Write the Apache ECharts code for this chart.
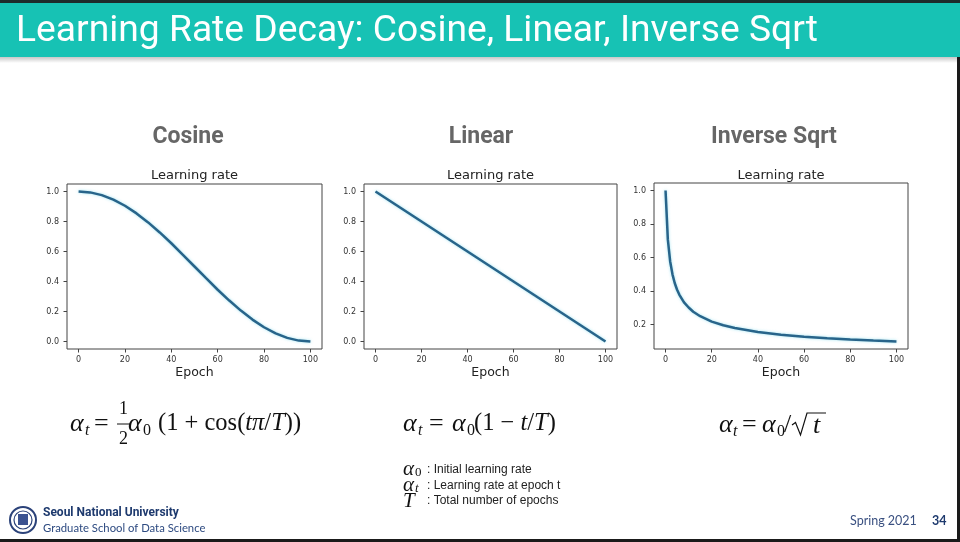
<!DOCTYPE html>
<html><head><meta charset="utf-8">
<script src="https://cdn.jsdelivr.net/npm/echarts@6/dist/echarts.min.js"></script>
<style>html,body{margin:0;padding:0;background:#fff}#c{width:960px;height:542px}</style>
</head><body><div id="c"></div>
<script>
// ---- data ----
const slideTitle = 'Learning Rate Decay: Cosine, Linear, Inverse Sqrt';
const panelTitles = ['Cosine', 'Linear', 'Inverse Sqrt'];
const plotTitle = 'Learning rate';
const xAxisName = 'Epoch';

const epochsCosine = [0,5,10,15,20,25,30,35,40,45,50,55,60,65,70,75,80,85,90,95,100];
const cosineLR = [1.0,0.994,0.976,0.946,0.905,0.854,0.794,0.727,0.655,0.578,0.5,0.422,0.345,0.273,0.206,0.146,0.095,0.054,0.024,0.006,0.0];

const epochsLinear = [0,10,20,30,40,50,60,70,80,90,100];
const linearLR = [1.0,0.9,0.8,0.7,0.6,0.5,0.4,0.3,0.2,0.1,0.0];

const epochsInvSqrt = [0,1,2,3,4,5,6,8,10,12,15,20,25,30,40,50,60,70,80,90,100];
const invSqrtLR = [1.0,0.707,0.577,0.5,0.447,0.408,0.378,0.333,0.302,0.277,0.25,0.218,0.196,0.18,0.156,0.14,0.128,0.119,0.111,0.105,0.0995];

const xTicks = [0,20,40,60,80,100];
const yTicksA = [0,0.2,0.4,0.6,0.8,1.0];
const yTicksB = [0.2,0.4,0.6,0.8,1.0];

const legendLines = [': Initial learning rate', ': Learning rate at epoch t', ': Total number of epochs'];
const footerUni = 'Seoul National University';
const footerSchool = 'Graduate School of Data Science';
const footerTerm = 'Spring 2021';
const footerPage = '34';

// ---- layout ----
const grids = [
  {left: 67, top: 184, width: 255, height: 165},
  {left: 364, top: 184, width: 253, height: 165},
  {left: 654, top: 183, width: 254, height: 166}
];
const yRanges = [[-0.05, 1.05], [-0.05, 1.05], [0.0545, 1.045]];
const yTickSets = [yTicksA, yTicksA, yTicksB];
const seriesData = [
  epochsCosine.map((e, i) => [e, cosineLR[i]]),
  epochsLinear.map((e, i) => [e, linearLR[i]]),
  epochsInvSqrt.map((e, i) => [e, invSqrtLR[i]])
];
const panelCenters = [188, 481, 774];

const chart = echarts.init(document.getElementById('c'), null, {renderer: 'canvas'});
const tickFont = 'DejaVu Sans';
const lineColor = '#28648a';

const option = {
  animation: false,
  backgroundColor: '#ffffff',
  grid: grids.map(g => Object.assign({show: true, borderColor: '#444', borderWidth: 1, backgroundColor: 'transparent'}, g)),
  xAxis: grids.map((g, i) => ({
    gridIndex: i, type: 'value', min: -5, max: 105,
    axisLine: {show: false, onZero: false}, splitLine: {show: false},
    axisTick: {show: true, customValues: xTicks, length: 3.5, lineStyle: {color: '#444'}},
    axisLabel: {customValues: xTicks, fontSize: 8, color: '#333', margin: 7, fontFamily: tickFont},
    name: xAxisName, nameLocation: 'middle', nameGap: 17, nameMoveOverlap: false,
    nameTextStyle: {fontSize: 12.5, fontFamily: tickFont, color: '#222'}
  })),
  yAxis: grids.map((g, i) => ({
    gridIndex: i, type: 'value', min: yRanges[i][0], max: yRanges[i][1],
    axisLine: {show: false, onZero: false}, splitLine: {show: false},
    axisTick: {show: true, customValues: yTickSets[i], length: 3.5, lineStyle: {color: '#444'}},
    axisLabel: {customValues: yTickSets[i], fontSize: 8, color: '#333', margin: 8, fontFamily: tickFont,
      formatter: v => Number(v).toFixed(1)}
  })),
  series: seriesData.map((d, i) => ({
    type: 'line', xAxisIndex: i, yAxisIndex: i, data: d, showSymbol: false,
    lineStyle: {color: lineColor, width: 2.5, shadowColor: 'rgba(120,215,235,0.7)', shadowBlur: 3},
    emphasis: {disabled: true}
  })),
  graphic: []
};

const G = option.graphic;
// header
G.push({type: 'rect', shape: {x: 0, y: 0, width: 960, height: 3}, style: {fill: '#1d2b2b'}, silent: true});
G.push({type: 'rect', shape: {x: 0, y: 3, width: 960, height: 54}, style: {fill: '#17c2b4'}, silent: true});
G.push({type: 'rect', shape: {x: 0, y: 57, width: 960, height: 6}, silent: true,
  style: {fill: new echarts.graphic.LinearGradient(0, 0, 0, 1, [{offset: 0, color: 'rgba(0,0,0,0.22)'}, {offset: 1, color: 'rgba(0,0,0,0)'}])}});
G.push({type: 'text', x: 16, y: 32, scaleX: 1.006, silent: true,
  style: {x: 0, y: 0, text: slideTitle, font: '37px Roboto', fill: '#ffffff', textVerticalAlign: 'middle'}});
// borders
G.push({type: 'rect', shape: {x: 957, y: 57, width: 3, height: 485}, style: {fill: '#1a1a1a'}, silent: true});
G.push({type: 'rect', shape: {x: 0, y: 539, width: 960, height: 3}, style: {fill: '#1a1a1a'}, silent: true});

// panel titles & plot titles
panelTitles.forEach((t, i) => {
  G.push({type: 'text', silent: true, style: {x: panelCenters[i], y: 137, text: t, font: 'bold 23px Roboto', fill: '#666666', textAlign: 'center', textVerticalAlign: 'middle'}});
  const cx = grids[i].left + grids[i].width / 2;
  G.push({type: 'text', silent: true, style: {x: cx, y: 176, text: plotTitle, font: '13px "DejaVu Sans"', fill: '#222', textAlign: 'center', textVerticalAlign: 'middle'}});
});

// math helper
function m(t, x, y, size, italic) {
  G.push({type: 'text', silent: true, style: {x: x, y: y, text: t,
    font: (italic ? 'italic ' : '') + size + 'px "Liberation Serif"', fill: '#111', textVerticalAlign: 'middle'}});
}
function line(x1, x2, y) {
  G.push({type: 'line', silent: true, shape: {x1: x1, y1: y, x2: x2, y2: y}, style: {stroke: '#111', lineWidth: 1}});
}
const FS = 26, RS = 24.5, SS = 16;
const rich = {r: {font: RS + 'px "Liberation Serif"', fill: '#111'}, i: {font: 'italic ' + RS + 'px "Liberation Serif"', fill: '#111'}};
// formula 1: alpha_t = 1/2 alpha_0 (1 + cos(t pi / T))
m('α', 70, 424, FS, true); m('t', 85, 431, SS, true); m('=', 94, 424, FS, false);
m('1', 119, 409, 18, false); line(117, 130, 424); m('2', 119, 439, 18, false);
m('α', 128, 424, FS, true); m('0', 143, 431, SS, false);
G.push({type: 'text', silent: true, style: {x: 158, y: 424, textVerticalAlign: 'middle',
  text: '{r|(1 + cos(}{i|tπ}{r|/}{i|T}{r|))}', rich: rich}});
// formula 2: alpha_t = alpha_0 (1 - t/T)
m('α', 403, 424, FS, true); m('t', 418, 431, SS, true); m('=', 429, 424, FS, false);
m('α', 452, 424, FS, true); m('0', 467, 431, SS, false);
G.push({type: 'text', silent: true, style: {x: 474, y: 424, textVerticalAlign: 'middle',
  text: '{r|(1 − }{i|t}{r|/}{i|T}{r|)}', rich: rich}});
// formula 3: alpha_t = alpha_0 / sqrt(t)
m('α', 719, 425, FS, true); m('t', 733, 432, SS, true); m('=', 742, 425, FS, false);
m('α', 762, 425, FS, true); m('0', 777, 432, SS, false); m('/', 784, 425, FS, false);
G.push({type: 'polyline', silent: true, shape: {points: [[792, 425], [795.5, 422.5], [800.5, 435], [807, 413], [826, 413]]},
  style: {stroke: '#111', lineWidth: 1.2, fill: null}});
m('t', 813, 426, FS, true);

// legend of symbols
m('α', 403, 469, 21, true); m('0', 415, 473, 13, false);
m('α', 403, 485, 21, true); m('t', 415, 489, 13, true);
m('T', 403, 501, 21, true);
legendLines.forEach((t, k) => {
  G.push({type: 'text', silent: true, style: {x: 427, y: 470 + k * 15.5, text: t, font: '12px "Liberation Sans"', fill: '#222', textVerticalAlign: 'middle'}});
});

// footer
G.push({type: 'circle', silent: true, shape: {cx: 23, cy: 520, r: 13}, style: {fill: '#ffffff', stroke: '#2b4279', lineWidth: 2}});
G.push({type: 'circle', silent: true, shape: {cx: 23, cy: 520, r: 9}, style: {fill: '#ffffff', stroke: '#2b4279', lineWidth: 1.2}});
G.push({type: 'rect', silent: true, shape: {x: 18, y: 514, width: 10, height: 11}, style: {fill: '#3b5290'}});
G.push({type: 'text', silent: true, style: {x: 43, y: 513, text: footerUni, font: 'bold 12px Roboto', fill: '#1e3a6e', textVerticalAlign: 'middle'}});
G.push({type: 'text', silent: true, style: {x: 43, y: 528, text: footerSchool, font: '11.3px Lato', fill: '#2d4a80', textVerticalAlign: 'middle'}});
G.push({type: 'text', silent: true, style: {x: 850, y: 521, text: footerTerm, font: '12.5px Lato', fill: '#3a5080', textVerticalAlign: 'middle'}});
G.push({type: 'text', silent: true, style: {x: 932, y: 521, text: footerPage, font: 'bold 12.5px Lato', fill: '#1e3a6e', textVerticalAlign: 'middle'}});

chart.setOption(option);
</script>
</body></html>
